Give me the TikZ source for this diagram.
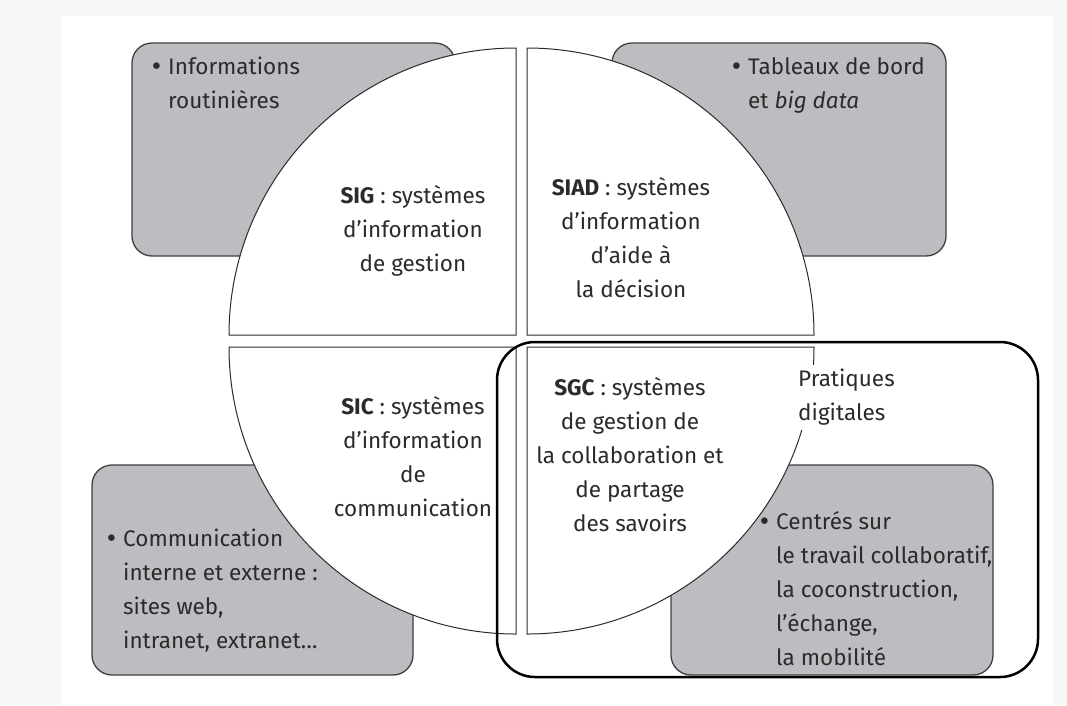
\documentclass[tikz,border=0pt]{standalone}
\usepackage{fontspec}
\setmainfont{Fira Sans}
\newfontfamily\bulletfont{DejaVu Sans}
\newcommand\puce{\llap{{\bulletfont •}\hspace{5pt}}}
\definecolor{pagegray}{HTML}{F7F7F7}
\definecolor{boxgray}{HTML}{BCBCC1}
\definecolor{inkgray}{HTML}{2B2B2B}
\begin{document}
\begin{tikzpicture}[x=1pt, y=-1pt,
    quart/.style={draw=inkgray, line width=1pt, fill=white},
    infobox/.style={draw=black!75, line width=1.3pt, fill=boxgray, rounded corners=20pt},
    infotxt/.style={anchor=north west, align=left, inner sep=0pt, text=inkgray, font=\fontsize{22.5}{34}\selectfont},
    quarttxt/.style={anchor=north, align=center, inner sep=0pt, text=inkgray, font=\fontsize{22.5}{34}\selectfont},
    cadre/.style={draw=black, line width=2.5pt, rounded corners=38pt}
]
% fond
\fill[pagegray] (0,0) rectangle (1067,705);
\fill[white] (61,16) rectangle (1053,705);
\useasboundingbox (0,0) rectangle (1067,705);

% encadres gris
\draw[infobox] (132,43) rectangle (455,256);
\draw[infobox] (612,43) rectangle (946,256);
\draw[infobox] (92,465) rectangle (413,675);
\draw[infobox] (671,465) rectangle (993,675);

% les quatre quarts du cercle
\draw[quart] (516,335) -- (229,335) arc[start angle=180, end angle=270, radius=287] -- cycle;
\draw[quart] (527,335) -- (527,48) arc[start angle=270, end angle=360, radius=287] -- cycle;
\draw[quart] (516,347) -- (229,347) arc[start angle=180, end angle=90, radius=287] -- cycle;
\draw[quart] (527,347) -- (814,347) arc[start angle=0, end angle=90, radius=287] -- cycle;

% textes des quarts
\node[quarttxt] (sig) at (413,185) {\textbf{SIG} : systèmes\\d’information\\de gestion};
\node[quarttxt] (siad) at (631,177) {\textbf{SIAD} : systèmes\\d’information\\d’aide à\\la décision};
\node[quarttxt] (sic) at (413,396) {\textbf{SIC} : systèmes\\d’information\\de\\communication};
\node[quarttxt] (sgc) at (630,377) {\textbf{SGC} : systèmes\\de gestion de\\la collaboration et\\de partage\\des savoirs};

% textes des encadres
\node[infotxt] (routine) at (168,57) {\puce Informations\\routinières};
\node[infotxt] (bord) at (748,57) {\puce Tableaux de bord\\et \textit{big data}};
\node[infotxt] (comm) at (123,529) {\puce Communication\\interne et externe :\\sites web,\\intranet, extranet…};
\node[infotxt] (collab) at (776,511) {\puce Centrés sur\\le travail collaboratif,\\la coconstruction,\\l’échange,\\la mobilité};

% pratiques digitales
\node[infotxt, fill=white, inner sep=4pt] (pratiques) at (794,365) {Pratiques\\digitales};
\draw[cadre] (497,342) rectangle (1038,677);
\end{tikzpicture}
\end{document}
